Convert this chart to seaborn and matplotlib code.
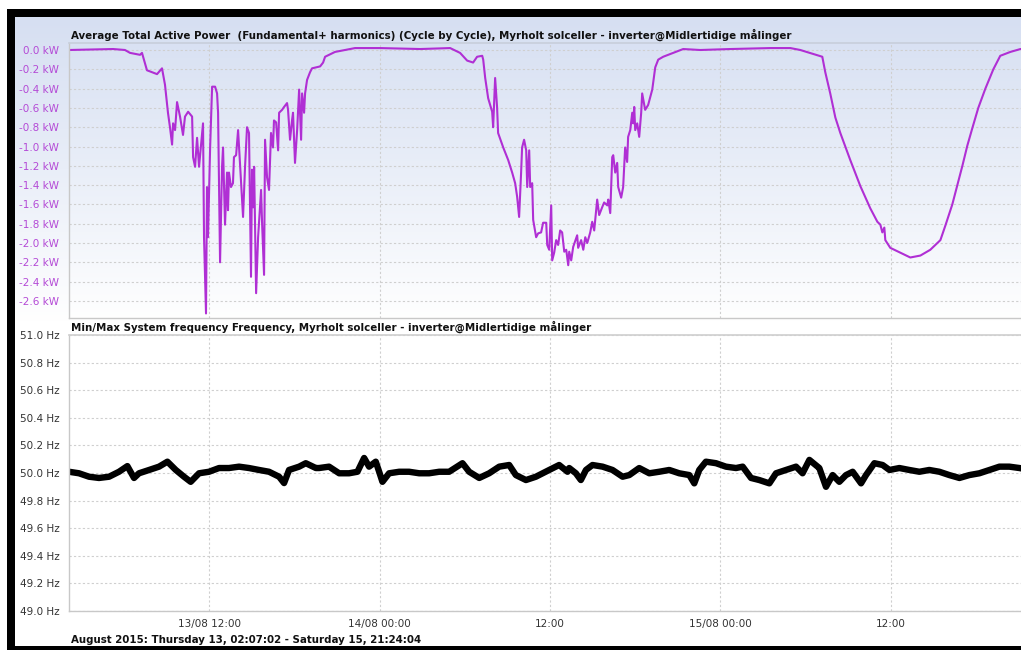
import numpy as np
import pandas as pd
import matplotlib
matplotlib.use("Agg")
import matplotlib.pyplot as plt
import matplotlib.dates as mdates
from matplotlib.patches import Rectangle
from matplotlib.colors import LinearSegmentedColormap
import seaborn as sns

# ---------------- data ----------------
start_day = pd.Timestamp("2015-08-13 00:00:00")
range_start = pd.Timestamp("2015-08-13 02:07:02")
range_end = pd.Timestamp("2015-08-15 21:24:04")

# hours since 13/08 00:00 and active power (kW)
power_hours = [2.12, 5.22, 6.06, 6.42, 7.12, 7.26, 7.61, 8.32, 8.67, 8.88, 9.09, 9.24, 9.38, 9.45, 9.59,
               9.73, 9.94, 10.15, 10.29, 10.51, 10.79, 10.86, 11.00, 11.14, 11.28, 11.49, 11.56, 11.63,
               11.77, 11.84, 11.91, 12.06, 12.20, 12.41, 12.55, 12.62, 12.76, 12.90, 12.97, 13.11, 13.25,
               13.32, 13.39, 13.53, 13.67, 13.74, 13.89, 14.03, 14.10, 14.24, 14.38, 14.52, 14.66, 14.80,
               14.94, 15.01, 15.09, 15.16, 15.30, 15.44, 15.65, 15.72, 15.86, 15.93, 16.07, 16.21, 16.35,
               16.49, 16.56, 16.71, 16.85, 16.92, 17.13, 17.27, 17.48, 17.55, 17.69, 17.83, 17.90, 18.04,
               18.19, 18.33, 18.47, 18.54, 18.68, 18.75, 18.89, 19.10, 19.24, 19.81, 20.02, 20.16, 20.86,
               21.57, 22.27, 24.04, 26.86, 28.97, 29.67, 30.17, 30.59, 30.87, 31.23, 31.30, 31.44, 31.65,
               31.93, 32.00, 32.14, 32.28, 32.35, 32.71, 33.06, 33.34, 33.55, 33.69, 33.83, 33.97, 34.04,
               34.18, 34.33, 34.40, 34.54, 34.61, 34.75, 34.82, 35.03, 35.17, 35.38, 35.52, 35.74, 35.81,
               35.95, 36.09, 36.16, 36.30, 36.44, 36.58, 36.72, 36.86, 37.01, 37.15, 37.29, 37.36, 37.50,
               37.64, 37.92, 37.99, 38.20, 38.35, 38.49, 38.63, 38.84, 38.98, 39.12, 39.33, 39.47, 39.68,
               39.82, 40.04, 40.11, 40.25, 40.39, 40.46, 40.60, 40.74, 40.81, 41.02, 41.16, 41.30, 41.44,
               41.51, 41.66, 41.80, 41.87, 41.94, 42.01, 42.15, 42.29, 42.43, 42.50, 42.71, 42.92, 43.21,
               43.42, 43.63, 43.98, 44.69, 45.39, 46.59, 48.71, 51.53, 52.94, 53.64, 55.19, 55.40, 55.75,
               56.11, 56.46, 57.16, 57.87, 58.57, 59.07, 59.28, 59.42, 59.56, 59.63, 59.98, 60.69, 61.39,
               62.10, 62.80, 63.51, 63.86, 64.35, 65.06, 65.41, 65.76, 66.18, 66.68, 67.24, 67.73, 68.44,
               69.15, 69.40]
power_kw = [0.00, 0.01, 0.00, -0.03, -0.05, -0.03, -0.21, -0.25, -0.19, -0.36, -0.65, -0.81, -0.98, -0.76, -0.83,
            -0.54, -0.69, -0.88, -0.69, -0.64, -0.69, -1.11, -1.21, -0.91, -1.21, -0.88, -0.76, -1.94,
            -2.73, -1.42, -1.94, -1.01, -0.38, -0.38, -0.45, -0.65, -2.20, -1.21, -1.01, -1.81, -1.27,
            -1.66, -1.27, -1.42, -1.38, -1.11, -1.09, -0.83, -1.01, -1.35, -1.73, -1.21, -0.80, -0.86,
            -2.35, -1.24, -1.63, -1.21, -2.52, -1.94, -1.45, -1.79, -2.33, -0.93, -1.32, -1.45, -0.86,
            -1.01, -0.73, -0.75, -1.04, -0.65, -0.62, -0.59, -0.55, -0.62, -0.93, -0.73, -0.65, -1.17,
            -0.83, -0.41, -0.93, -0.45, -0.65, -0.45, -0.31, -0.23, -0.19, -0.17, -0.13, -0.07, -0.02,
            0.00, 0.02, 0.02, 0.01, 0.02, -0.03, -0.11, -0.13, -0.07, -0.06, -0.10, -0.29, -0.50,
            -0.64, -0.80, -0.29, -0.60, -0.86, -1.01, -1.14, -1.27, -1.38, -1.52, -1.73, -1.27, -1.01,
            -0.93, -1.04, -1.42, -1.04, -1.42, -1.38, -1.76, -1.94, -1.90, -1.89, -1.79, -1.79, -2.02,
            -2.07, -1.61, -2.18, -2.10, -1.97, -2.02, -1.87, -1.89, -2.09, -2.07, -2.23, -2.09, -2.18,
            -2.04, -1.92, -2.05, -1.97, -2.07, -1.94, -2.00, -1.89, -1.78, -1.87, -1.55, -1.71, -1.63,
            -1.58, -1.61, -1.55, -1.69, -1.11, -1.09, -1.27, -1.17, -1.42, -1.53, -1.42, -1.01, -1.16,
            -0.90, -0.83, -0.65, -0.76, -0.59, -0.83, -0.76, -0.90, -0.65, -0.45, -0.62, -0.57, -0.41,
            -0.18, -0.10, -0.07, -0.03, 0.01, 0.00, 0.01, 0.02, 0.02, 0.00, -0.07, -0.23, -0.45,
            -0.70, -0.86, -1.14, -1.41, -1.64, -1.78, -1.81, -1.89, -1.84, -1.97, -2.05, -2.10, -2.15,
            -2.13, -2.07, -1.97, -1.82, -1.60, -1.20, -0.99, -0.81, -0.60, -0.40, -0.20, -0.06, -0.02,
            0.01, 0.01]

# hours since 13/08 00:00 and system frequency (Hz)
freq_hours = [2.12, 2.82, 3.53, 4.23, 4.94, 5.64, 6.23, 6.70, 7.05, 7.76, 8.46, 9.05, 9.64, 10.22, 10.69,
              11.28, 11.98, 12.69, 13.39, 14.10, 14.80, 15.51, 16.21, 16.92, 17.27, 17.62, 18.33, 18.80,
              19.51, 19.74, 20.44, 21.15, 21.85, 22.44, 22.91, 23.26, 23.73, 23.97, 24.20, 24.67, 25.38,
              26.08, 26.79, 27.49, 28.20, 28.90, 29.84, 30.31, 31.02, 31.72, 32.43, 33.13, 33.60, 34.31,
              35.01, 35.95, 36.65, 37.24, 37.36, 37.83, 38.18, 38.54, 39.00, 39.71, 40.41, 41.12, 41.59,
              42.29, 43.00, 43.70, 44.41, 45.11, 45.82, 46.17, 46.52, 46.99, 47.70, 48.40, 49.11, 49.58,
              50.17, 50.75, 51.46, 51.93, 52.63, 53.34, 53.80, 54.28, 54.86, 54.98, 55.45, 55.92, 56.39,
              56.86, 57.33, 57.92, 58.27, 58.86, 59.44, 59.92, 60.62, 61.32, 62.03, 62.73, 63.44, 64.14,
              64.85, 65.55, 66.26, 66.97, 67.67, 68.37, 69.08, 69.40]
freq_hz = [50.009, 49.998, 49.973, 49.964, 49.973, 50.009, 50.050, 49.964, 49.998, 50.022, 50.046, 50.082,
           50.022, 49.973, 49.936, 49.998, 50.009, 50.036, 50.036, 50.046, 50.036, 50.022, 50.009, 49.973,
           49.927, 50.022, 50.046, 50.071, 50.036, 50.036, 50.046, 49.998, 49.998, 50.009, 50.109, 50.046,
           50.082, 50.009, 49.936, 49.998, 50.009, 50.009, 49.998, 49.998, 50.009, 50.009, 50.071, 50.009,
           49.964, 49.998, 50.046, 50.058, 49.985, 49.949, 49.973, 50.022, 50.058, 50.009, 50.036, 49.998,
           49.949, 50.022, 50.058, 50.046, 50.022, 49.973, 49.985, 50.036, 49.998, 50.009, 50.022, 49.998,
           49.985, 49.925, 50.022, 50.082, 50.071, 50.046, 50.036, 50.046, 49.964, 49.949, 49.925, 49.998,
           50.022, 50.046, 49.998, 50.095, 50.046, 50.036, 49.900, 49.985, 49.936, 49.985, 50.009, 49.925,
           49.985, 50.071, 50.058, 50.022, 50.036, 50.022, 50.009, 50.022, 50.009, 49.985, 49.964, 49.985,
           49.998, 50.022, 50.046, 50.046, 50.036, 50.03]

power_ticks = [0.0, -0.2, -0.4, -0.6, -0.8, -1.0, -1.2, -1.4, -1.6, -1.8, -2.0, -2.2, -2.4, -2.6]
freq_ticks = [51.0, 50.8, 50.6, 50.4, 50.2, 50.0, 49.8, 49.6, 49.4, 49.2, 49.0]
x_tick_hours = [12, 24, 36, 48, 60]
x_tick_labels = ["13/08 12:00", "14/08 00:00", "12:00", "15/08 00:00", "12:00"]

title_power = ("Average Total Active Power  (Fundamental+ harmonics) (Cycle by Cycle), "
               "Myrholt solceller - inverter@Midlertidige målinger")
title_freq = "Min/Max System frequency Frequency, Myrholt solceller - inverter@Midlertidige målinger"
footer = "August 2015: Thursday 13, 02:07:02 - Saturday 15, 21:24:04"

# ---------------- build frames ----------------
df_p = pd.DataFrame({"time": start_day + pd.to_timedelta(power_hours, unit="h"), "kW": power_kw})
df_f = pd.DataFrame({"time": start_day + pd.to_timedelta(freq_hours, unit="h"), "Hz": freq_hz})
tick_times = [start_day + pd.Timedelta(hours=h) for h in x_tick_hours]

sns.set_theme(style="white")
plt.rcParams["font.family"] = ["DejaVu Sans"]

W, H = 1021, 650
fig = plt.figure(figsize=(W / 100, H / 100), dpi=100)
fig.patch.set_facecolor("white")

def fx(px):
    return px / W

def fy(py):
    return 1 - py / H

# gradient background for top panel
bg = fig.add_axes([fx(15), fy(322), 1 - fx(15), (322 - 17) / H], zorder=0)
cmap = LinearSegmentedColormap.from_list("g", ["#d6dff2", "#e9eef8", "#ffffff"])
grad = np.linspace(0, 1, 256).reshape(-1, 1)
bg.imshow(grad, aspect="auto", cmap=cmap, extent=[0, 1, 0, 1], origin="upper")
bg.set_axis_off()

# black frame bars
fig.patches.append(Rectangle((fx(7), fy(17)), 1 - fx(7), 8 / H, transform=fig.transFigure,
                             facecolor="black", edgecolor="none", zorder=5))
fig.patches.append(Rectangle((fx(7), 0), 8 / W, fy(9), transform=fig.transFigure,
                             facecolor="black", edgecolor="none", zorder=5))
fig.patches.append(Rectangle((fx(7), 0), 1 - fx(7), 4 / H, transform=fig.transFigure,
                             facecolor="black", edgecolor="none", zorder=5))

ax_w = 955 / W
ax1 = fig.add_axes([fx(69), fy(318), ax_w, (318 - 43) / H], zorder=2)
ax2 = fig.add_axes([fx(69), fy(611), ax_w, (611 - 335) / H], zorder=2)
ax1.set_facecolor("none")
ax2.set_facecolor("white")

purple = "#b02fd4"
sns.lineplot(data=df_p, x="time", y="kW", ax=ax1, color=purple, linewidth=1.5,
             estimator=None, sort=False)
sns.lineplot(data=df_f, x="time", y="Hz", ax=ax2, color="black", linewidth=4.6,
             estimator=None, sort=False)

grid_kw = dict(color="#cfcfcf", linestyle=(0, (2, 2)), linewidth=0.8)
for ax in (ax1, ax2):
    ax.set_xlim(range_start, range_end)
    ax.set_xticks(tick_times)
    ax.grid(True, **grid_kw)
    ax.set_axisbelow(True)
    ax.set_xlabel("")
    ax.set_ylabel("")
    for side in ("top", "right"):
        ax.spines[side].set_visible(False)
    for side in ("left", "bottom"):
        ax.spines[side].set_color("#c8c8c8")
        ax.spines[side].set_linewidth(1.0)
    ax.tick_params(axis="y", length=0, pad=7, labelsize=7.5)

ax1.spines["top"].set_visible(True)
ax1.spines["top"].set_color("#c8cfdc")
ax1.set_ylim(-2.777, 0.0725)
ax1.set_yticks(power_ticks)
ax1.set_yticklabels([f"{v:.1f} kW" for v in power_ticks], color="#b44ad6")
ax1.tick_params(axis="x", length=0, labelbottom=False)

ax2.spines["top"].set_visible(True)
ax2.spines["top"].set_color("#d0d0d0")
ax2.set_ylim(49.0, 51.0)
ax2.set_yticks(freq_ticks)
ax2.set_yticklabels([f"{v:.1f} Hz" for v in freq_ticks], color="#333333")
ax2.set_xticklabels(x_tick_labels, color="#333333")
ax2.tick_params(axis="x", length=5, width=0.8, color="#c8c8c8", pad=3, labelsize=7.5, direction="inout")

fs_title = 7.35
fig.text(fx(71), fy(35), title_power, fontsize=fs_title, fontweight="bold", color="#111111",
         va="center", ha="left")
fig.text(fx(71), fy(327), title_freq, fontsize=fs_title, fontweight="bold", color="#111111",
         va="center", ha="left", zorder=3)
fig.text(fx(71), fy(640), footer, fontsize=fs_title, fontweight="bold", color="#111111",
         va="center", ha="left")

fig.savefig("out.png", dpi=100)
